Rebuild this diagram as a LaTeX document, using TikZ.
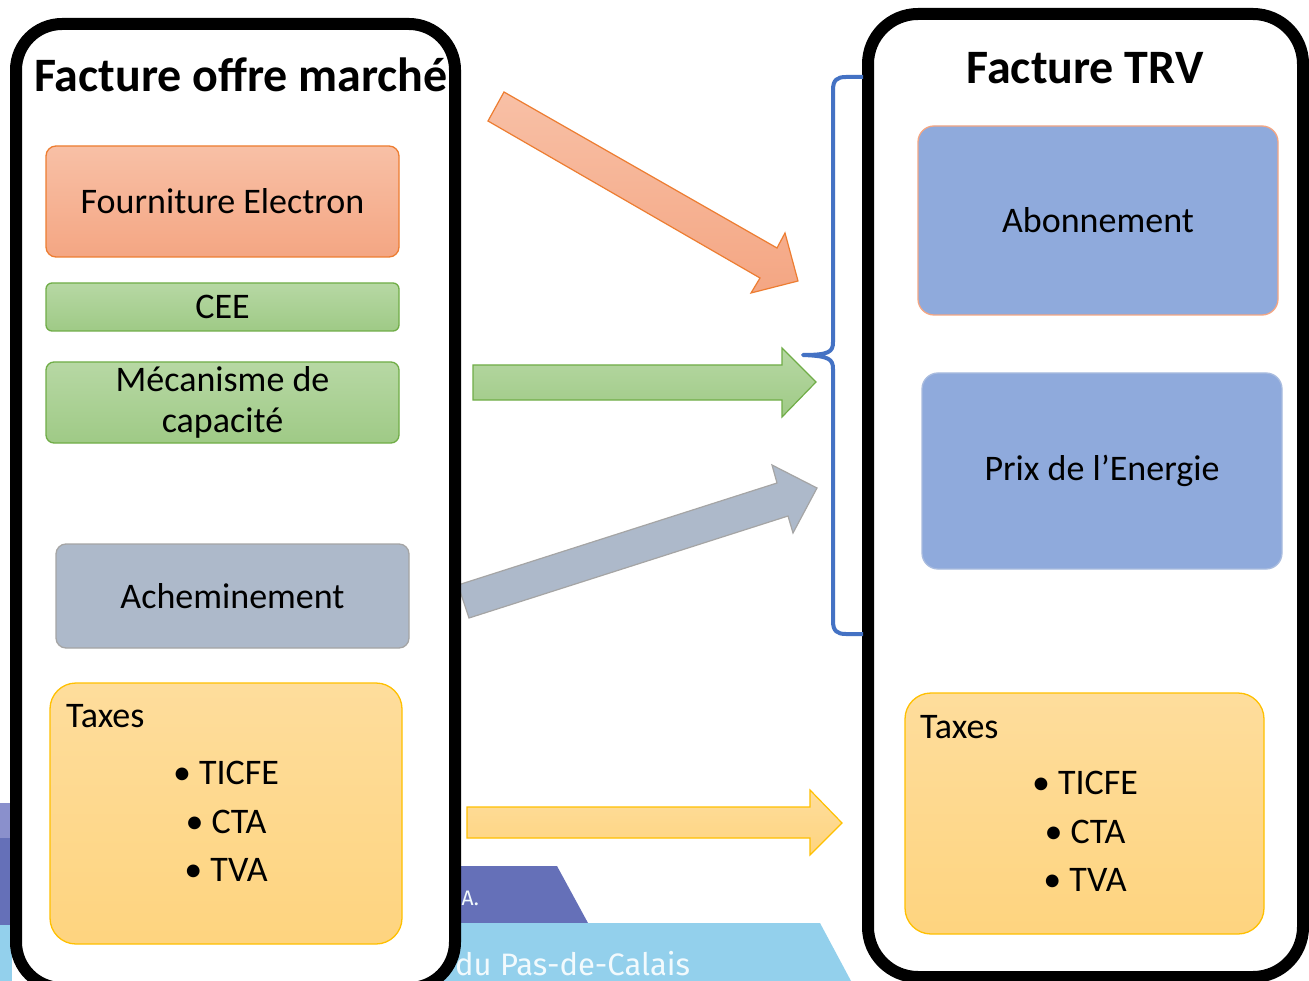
\documentclass[tikz,border=0pt]{standalone}
\usepackage{fontspec}
\setmainfont{Carlito}
\newfontfamily\bannerfont{Fira Sans}
\definecolor{orFillT}{HTML}{F8C0A6}
\definecolor{orFillB}{HTML}{F4A683}
\definecolor{orLine}{HTML}{ED7D31}
\definecolor{grFillT}{HTML}{B7D8A4}
\definecolor{grFillB}{HTML}{9FCA86}
\definecolor{grLine}{HTML}{70AD47}
\definecolor{gyFill}{HTML}{ADB9CA}
\definecolor{gyLine}{HTML}{A5A5A5}
\definecolor{yeFillT}{HTML}{FEDD9C}
\definecolor{yeFillB}{HTML}{FED47F}
\definecolor{yeLine}{HTML}{FFC000}
\definecolor{blFill}{HTML}{8FAADC}
\definecolor{blLine}{HTML}{A9BCDF}
\definecolor{braceCol}{HTML}{4472C4}
\definecolor{bandPurple}{HTML}{6570B8}
\definecolor{bandLav}{HTML}{8A90CC}
\definecolor{bandBlue}{HTML}{93D0EC}
\definecolor{bandText}{HTML}{F2FAFD}
\begin{document}
\begin{tikzpicture}[x=1pt,y=-1pt,
  body/.style={font=\fontsize{36}{41}\selectfont, align=center},
  ttl/.style={font=\bfseries\fontsize{48}{52}\selectfont, anchor=base},
  bx/.style={rounded corners=10pt, line width=1.3pt, inner sep=0pt},
  orbox/.style={bx, draw=orLine, top color=orFillT, bottom color=orFillB},
  grbox/.style={bx, draw=grLine, top color=grFillT, bottom color=grFillB},
  gybox/.style={bx, draw=gyLine, fill=gyFill},
  yebox/.style={bx, rounded corners=26pt, draw=yeLine, top color=yeFillT, bottom color=yeFillB},
  blbox/.style={bx, rounded corners=16pt, fill=blFill},
  outer/.style={line width=12pt, rounded corners=46pt, fill=white, draw=black},
  blockarrow/.style={line width=1.2pt, line join=miter},
  taxtxt/.style={font=\fontsize{36}{41}\selectfont, anchor=base, inner sep=0pt},
  taxhead/.style={taxtxt, anchor=base west}
]
\useasboundingbox (0,0) rectangle (1309,981);
\clip (0,0) rectangle (1309,981);
\fill[white] (0,0) rectangle (1309,981);

% background banners (partially hidden)
\fill[bandLav] (0,803) rectangle (12,838);
\fill[bandPurple] (0,838) rectangle (12,925);
\fill[bandBlue] (0,925) rectangle (12,981);
\fill[bandPurple] (440,866) -- (557,866) -- (588,923) -- (440,923) -- cycle;
\fill[bandBlue] (440,923) -- (820,923) -- (851,981) -- (440,981) -- cycle;
\node[font=\bannerfont\fontsize{31}{36}\selectfont, text=bandText, anchor=base west, inner sep=0pt] (banner) at (455,975) {du Pas-de-Calais};
\node[font=\bannerfont\fontsize{21}{24}\selectfont, text=bandText, anchor=base east, inner sep=0pt] (bannerA) at (479,905) {A.};

% block arrows
\path[blockarrow, draw=grLine, top color=grFillT, bottom color=grFillB]
  (473,365) -- (782,365) -- (782,348) -- (816,382) -- (782,417) -- (782,400) -- (473,400) -- cycle;
\path[blockarrow, draw=gyLine, fill=gyFill]
  (458,585) -- (777,483) -- (772,465) -- (817,488) -- (793,533) -- (788,516) -- (469,618) -- cycle;
\path[blockarrow, draw=yeLine, top color=yeFillT, bottom color=yeFillB]
  (467,807) -- (810,807) -- (810,790) -- (842,823) -- (810,855) -- (810,838) -- (467,838) -- cycle;

% outer boxes
\draw[outer] (16,24) rectangle (455,988);
\draw[outer, rounded corners=50pt] (868,14) rectangle (1303,977);

% orange arrow
\path[blockarrow, draw=orLine, top color=orFillT, bottom color=orFillB]
  (504,92) -- (777,248) -- (785,233) -- (798,281) -- (751,293) -- (760,278) -- (488,121) -- cycle;

% brace
\draw[braceCol, line width=4pt, line cap=butt, line join=round] (863,77) -- (846,77)
  .. controls (837,77) and (833,80) .. (833,90) -- (833,342)
  .. controls (833,352) and (829,355) .. (803,355)
  .. controls (829,356) and (833,359) .. (833,369) -- (833,621)
  .. controls (833,631) and (837,634) .. (846,634) -- (863,634);

% titles
\node[ttl] (t1) at (241,92) {Facture offre marché};
\node[ttl] (t2) at (1085,84) {Facture TRV};

% left inner boxes
\node[orbox, minimum width=353pt, minimum height=111pt, body] (four) at (222.5,201.5) {Fourniture Electron};
\node[grbox, minimum width=353pt, minimum height=48pt, body, rounded corners=6pt] (cee) at (222.5,307) {CEE};
\node[grbox, minimum width=353pt, minimum height=81pt, body, rounded corners=8pt] (meca) at (222.5,402.5) {Mécanisme de\\capacité};
\node[gybox, minimum width=353pt, minimum height=104pt, body] (ache) at (232.5,596) {Acheminement};
\node[yebox, minimum width=352pt, minimum height=261pt] (taxL) at (226,813.5) {};
\node[taxhead] (taxLt) at (66,727) {Taxes};
\node[taxtxt] (taxL1) at (226,784) {\textbullet\ TICFE};
\node[taxtxt] (taxL2) at (226,833) {\textbullet\ CTA};
\node[taxtxt] (taxL3) at (226,881) {\textbullet\ TVA};

% right inner boxes
\node[blbox, draw=orFillB, minimum width=360pt, minimum height=189pt, body] (abon) at (1098,220.5) {Abonnement};
\node[blbox, draw=blLine, minimum width=360pt, minimum height=196pt, body] (prix) at (1102,471) {Prix de l’Energie};
\node[yebox, minimum width=359pt, minimum height=241pt] (taxR) at (1084.5,813.5) {};
\node[taxhead] (taxRt) at (920,738) {Taxes};
\node[taxtxt] (taxR1) at (1085,794) {\textbullet\ TICFE};
\node[taxtxt] (taxR2) at (1085,843) {\textbullet\ CTA};
\node[taxtxt] (taxR3) at (1085,891) {\textbullet\ TVA};
\end{tikzpicture}
\end{document}
